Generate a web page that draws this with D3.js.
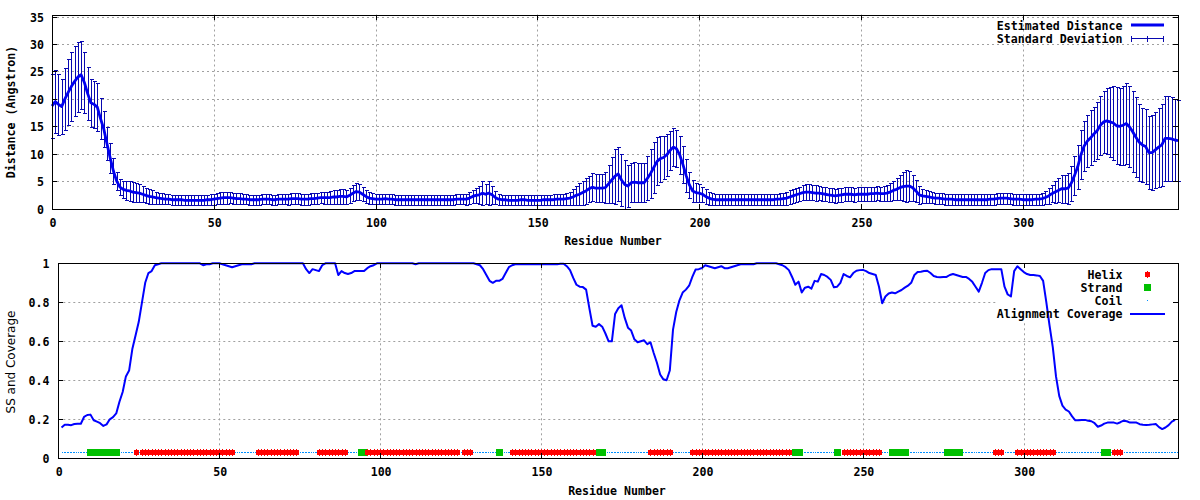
<!DOCTYPE html>
<html><head><meta charset="utf-8">
<script src="https://cdn.jsdelivr.net/npm/d3@7"></script>
<style>
body{margin:0;background:#fff}
text{font-family:"DejaVu Sans Mono",monospace;font-weight:bold;font-size:11.6px;fill:#000}
</style>
</head><body><svg id="c" width="1200" height="500"></svg>
<script>
// ---------- data ----------
// Estimated distance (Angstrom), residues 0..348
const distMean = [
18.7,19.5,19.0,18.6,20.0,21.2,22.3,23.2,24.0,24.4,
23.0,21.0,19.3,19.0,18.5,16.4,14.5,11.8,9.2,6.8,
5.0,3.9,3.5,3.3,3.2,3.0,2.9,2.8,2.6,2.4,
2.2,2.1,2.0,1.9,1.8,1.7,1.7,1.6,1.6,1.6,
1.6,1.5,1.5,1.5,1.5,1.5,1.5,1.5,1.6,1.6,
1.7,1.8,1.9,2.0,2.0,2.0,1.9,1.8,1.8,1.7,
1.7,1.6,1.6,1.6,1.6,1.7,1.7,1.7,1.6,1.6,
1.7,1.7,1.7,1.7,1.8,1.8,1.8,1.7,1.7,1.7,
1.8,1.8,1.9,2.0,2.0,2.0,2.0,2.1,2.1,2.2,
2.2,2.1,2.4,2.8,3.1,3.0,2.6,2.2,1.9,1.8,
1.7,1.7,1.7,1.8,1.7,1.7,1.6,1.6,1.6,1.6,
1.6,1.6,1.6,1.6,1.6,1.6,1.6,1.6,1.6,1.6,
1.6,1.6,1.6,1.6,1.6,1.7,1.7,1.7,1.7,1.9,
2.2,2.4,2.5,2.8,2.6,2.8,2.5,2.0,1.7,1.6,
1.6,1.5,1.5,1.5,1.5,1.6,1.6,1.5,1.5,1.5,
1.5,1.5,1.6,1.6,1.6,1.6,1.7,1.7,1.7,1.8,
1.9,2.1,2.4,2.6,2.9,3.2,3.6,3.9,3.7,3.7,
3.7,3.8,4.5,5.2,5.9,6.3,5.2,4.4,4.1,4.7,
4.8,4.7,4.7,4.7,5.5,6.4,7.5,8.6,9.1,9.3,
9.8,10.6,11.2,10.9,9.8,8.0,6.0,4.3,3.2,2.9,
2.8,2.6,2.2,1.9,1.7,1.6,1.6,1.6,1.6,1.6,
1.6,1.6,1.6,1.6,1.6,1.6,1.6,1.6,1.6,1.6,
1.6,1.6,1.6,1.6,1.7,1.7,1.8,1.9,2.1,2.3,
2.5,2.7,2.9,3.0,3.0,2.9,2.8,2.8,2.7,2.6,
2.5,2.4,2.3,2.4,2.5,2.6,2.6,2.6,2.5,2.6,
2.6,2.6,2.6,2.7,2.7,2.8,2.7,2.7,2.8,3.0,
3.3,3.5,3.8,4.0,4.1,4.1,3.8,3.2,2.5,2.3,
2.2,2.1,2.0,1.9,1.9,1.8,1.7,1.7,1.7,1.6,
1.6,1.6,1.6,1.6,1.6,1.6,1.6,1.6,1.6,1.6,
1.7,1.7,1.8,1.9,1.9,1.9,1.8,1.7,1.7,1.7,
1.6,1.6,1.6,1.6,1.7,1.7,1.8,2.0,2.3,2.7,
3.0,3.3,3.6,3.6,3.7,4.6,6.0,7.6,9.8,11.4,
12.3,12.9,13.6,14.2,15.2,15.8,16.0,15.8,15.6,15.1,
15.0,15.2,15.5,14.9,14.0,13.0,12.1,11.6,11.3,10.2,
10.2,10.7,11.2,11.6,12.8,12.8,12.7,12.5,12.4
];
// Standard deviation, residues 0..348
const distSD = [
5.8,5.7,5.5,5.0,5.7,6.0,6.3,6.4,6.4,6.2,
5.5,4.8,4.4,4.3,4.4,3.8,3.3,3.0,2.8,2.4,
1.7,1.5,1.6,1.8,1.9,1.8,1.7,1.6,1.5,1.4,
1.3,1.2,1.1,1.0,1.0,0.9,0.9,0.9,0.9,0.9,
0.9,0.9,0.9,0.9,0.9,0.9,0.9,0.9,0.9,1.0,
1.0,1.0,1.1,1.1,1.1,1.0,1.0,1.0,1.0,0.9,
0.9,0.9,0.9,0.9,0.9,0.9,0.9,0.9,0.9,0.9,
0.9,0.9,0.9,1.0,1.0,1.0,1.0,1.0,1.0,1.0,
1.0,1.0,1.0,1.0,1.1,1.1,1.2,1.2,1.3,1.3,
1.3,1.2,1.4,1.5,1.5,1.4,1.3,1.2,1.1,1.0,
0.9,0.9,0.9,0.9,0.9,0.9,0.9,0.9,0.9,0.9,
0.9,0.9,0.9,0.9,0.9,0.9,0.9,0.9,0.9,0.9,
0.9,0.9,0.9,0.9,0.9,0.9,0.9,0.9,1.0,1.1,
1.2,1.4,1.6,2.2,1.8,2.2,1.6,1.2,1.0,0.9,
0.9,0.9,0.9,0.9,0.9,0.9,0.9,0.9,0.9,0.9,
0.9,0.9,0.9,0.9,0.9,1.0,1.0,1.0,1.0,1.1,
1.2,1.4,1.7,2.0,2.2,2.3,2.4,2.5,2.6,2.6,
2.6,2.8,3.5,4.2,5.0,5.0,4.8,4.4,3.8,3.6,
3.6,3.6,3.6,3.6,4.0,4.4,4.6,4.4,4.2,4.0,
3.8,3.6,3.4,3.4,3.5,3.4,3.0,2.4,2.0,1.8,
1.6,1.4,1.3,1.2,1.1,1.0,1.0,1.0,1.0,1.0,
1.0,1.0,1.0,1.0,1.0,1.0,1.0,1.0,1.0,1.0,
1.0,1.0,1.0,1.0,1.0,1.1,1.1,1.2,1.2,1.3,
1.3,1.3,1.4,1.4,1.4,1.4,1.4,1.3,1.3,1.3,
1.3,1.3,1.3,1.3,1.3,1.3,1.3,1.3,1.3,1.3,
1.3,1.3,1.3,1.3,1.3,1.3,1.3,1.4,1.5,1.6,
1.8,2.0,2.3,2.6,2.9,2.7,2.4,2.0,1.6,1.3,
1.2,1.1,1.0,1.0,1.0,1.0,1.0,1.0,1.0,1.0,
1.0,1.0,1.0,1.0,1.0,1.0,1.0,1.0,1.0,1.0,
1.0,1.0,1.0,1.0,1.0,1.0,1.0,1.0,1.0,1.0,
1.0,1.0,1.0,1.0,1.0,1.0,1.1,1.2,1.4,1.6,
2.0,2.2,2.6,2.6,2.8,3.2,3.6,4.0,4.5,4.6,
4.8,5.0,5.0,5.2,5.4,5.6,6.0,6.4,6.8,7.0,
7.0,7.2,7.4,7.4,7.4,7.3,7.0,6.8,6.8,6.6,
6.8,7.0,7.2,7.5,7.7,7.7,7.6,7.4,7.4
];
// Alignment coverage, residues 1..347
const coverage = [
0.158,0.172,0.172,0.17,0.176,0.177,0.177,0.212,0.222,0.224,
0.195,0.188,0.18,0.166,0.174,0.2,0.211,0.23,0.29,0.34,
0.42,0.45,0.56,0.63,0.7,0.8,0.9,0.95,0.96,0.99,
0.995,1,1,1,1,1,1,1,1,1,
1,1,1,1,0.99,0.995,0.995,1,1,1,
0.995,0.99,0.985,0.98,0.985,0.99,0.995,0.995,0.995,0.995,
1,1,1,1,1,1,1,1,1,1,
1,1,1,1,1,1,0.97,0.95,0.97,0.965,
0.96,0.99,1,1,1,1,0.94,0.96,0.95,0.945,
0.95,0.96,0.96,0.96,0.96,0.975,0.985,0.99,1,1,
1,1,1,1,1,1,1,1,1,1,
0.995,1,1,1,1,1,1,1,1,1,
1,1,1,1,1,1,1,1,1,0.995,
0.99,0.97,0.94,0.91,0.9,0.91,0.91,0.92,0.95,0.98,
0.99,0.995,0.995,0.995,0.995,0.995,0.995,0.995,0.995,0.995,
0.995,0.995,0.995,0.995,0.995,0.998,0.998,0.985,0.965,0.925,
0.89,0.88,0.878,0.865,0.77,0.68,0.675,0.688,0.675,0.64,
0.6,0.6,0.74,0.77,0.785,0.72,0.67,0.655,0.61,0.595,
0.6,0.605,0.585,0.595,0.54,0.49,0.43,0.405,0.4,0.45,
0.66,0.75,0.81,0.85,0.865,0.885,0.93,0.968,0.97,0.976,
0.99,0.985,0.98,0.975,0.98,0.985,0.975,0.975,0.98,0.985,
0.99,0.995,0.995,0.995,0.995,0.995,1,1,1,1,
1,1,1,0.995,0.99,0.98,0.965,0.93,0.89,0.906,
0.85,0.875,0.88,0.87,0.91,0.906,0.945,0.94,0.93,0.915,
0.877,0.88,0.9,0.945,0.935,0.928,0.95,0.962,0.965,0.966,
0.96,0.95,0.945,0.94,0.88,0.795,0.83,0.845,0.85,0.846,
0.855,0.863,0.875,0.885,0.9,0.94,0.955,0.957,0.96,0.962,
0.95,0.935,0.93,0.928,0.93,0.93,0.94,0.945,0.94,0.935,
0.93,0.93,0.92,0.905,0.88,0.855,0.9,0.95,0.965,0.97,
0.97,0.97,0.97,0.88,0.84,0.83,0.96,0.985,0.97,0.955,
0.945,0.94,0.94,0.938,0.935,0.91,0.8,0.68,0.57,0.42,
0.32,0.27,0.25,0.24,0.215,0.195,0.195,0.197,0.197,0.193,
0.19,0.18,0.162,0.168,0.178,0.183,0.183,0.183,0.178,0.185,
0.193,0.19,0.183,0.183,0.183,0.175,0.172,0.171,0.172,0.174,
0.176,0.16,0.15,0.158,0.17,0.188,0.197
];
// Secondary structure segments [first, last] residue
const helixSegments = [[24,24],[26,54],[62,74],[81,89],[96,124],[126,128],[141,166],[184,190],[197,227],[244,255],[291,293],[298,309],[328,330]];
const strandSegments = [[10,18],[94,95],[137,137],[168,169],[229,230],[242,242],[259,263],[276,280],[325,326]];
const seqLength = 347;
const xTicks = [0,50,100,150,200,250,300];
const distTicks = [0,5,10,15,20,25,30,35];
const ssTicks = [0,0.2,0.4,0.6,0.8,1];
const ssTickLabels = ["0","0.2","0.4","0.6","0.8","1"];
const ssLevel = 0.03;

// ---------- drawing ----------
const svg = d3.select("#c");
const C = {mean:"#0000f0", err:"#0808b0", cov:"#0000ff", helix:"#ff0000", strand:"#00c000", coil:"#0090ff", grid:"#a0a0a0"};

function gridLines(x, y, xt, yt) {
  const g = svg.append("g");
  const [x0,x1] = x.range(), [y0,y1] = y.range();
  g.selectAll(".gx").data(xt.filter(d=>d>x.domain()[0])).join("line")
    .attr("x1",d=>Math.round(x(d))+.5).attr("x2",d=>Math.round(x(d))+.5)
    .attr("y1",y1).attr("y2",y0).attr("stroke",C.grid).attr("stroke-dasharray","2,3");
  g.selectAll(".gy").data(yt.filter(d=>d>y.domain()[0])).join("line")
    .attr("y1",d=>Math.round(y(d))+.5).attr("y2",d=>Math.round(y(d))+.5)
    .attr("x1",x0).attr("x2",x1).attr("stroke",C.grid).attr("stroke-dasharray","2,3");
  return g;
}
function frame(x, y, xt, yt, yfmt, xLabY, yLabX) {
  const g = svg.append("g");
  const [x0,x1] = x.range(), [y0,y1] = y.range();
  const L = 5;
  g.append("rect").attr("x",Math.round(x0)+.5).attr("y",Math.round(y1)+.5)
    .attr("width",Math.round(x1)-Math.round(x0)).attr("height",Math.round(y0)-Math.round(y1))
    .attr("fill","none").attr("stroke","#000");
  xt.forEach(d=>{
    const px = Math.round(x(d))+.5;
    g.append("line").attr("x1",px).attr("x2",px).attr("y1",Math.round(y0)).attr("y2",Math.round(y0)-L).attr("stroke","#000");
    g.append("line").attr("x1",px).attr("x2",px).attr("y1",Math.round(y1)).attr("y2",Math.round(y1)+L).attr("stroke","#000");
    g.append("text").attr("x",x(d)+1).attr("y",xLabY).attr("text-anchor","middle").attr("dominant-baseline","central").text(d);
  });
  yt.forEach((d,i)=>{
    const py = Math.round(y(d))+.5;
    g.append("line").attr("y1",py).attr("y2",py).attr("x1",Math.round(x0)).attr("x2",Math.round(x0)+L).attr("stroke","#000");
    g.append("line").attr("y1",py).attr("y2",py).attr("x1",Math.round(x1)).attr("x2",Math.round(x1)-L).attr("stroke","#000");
    g.append("text").attr("x",yLabX).attr("y",y(d)+1).attr("text-anchor","end").attr("dominant-baseline","central").text(yfmt(d,i));
  });
}

// ===== Top panel =====
const xT = d3.scaleLinear().domain([0,348]).range([52,1178]);
const yT = d3.scaleLinear().domain([0,35.4]).range([208.5,14.5]);
gridLines(xT, yT, xTicks, distTicks);
const topG = svg.append("g");
const distData = distMean.map((m,i)=>({r:i, m, s:distSD[i]}));
const eb = topG.append("g").attr("stroke",C.err).attr("stroke-width",1).attr("fill","none").attr("shape-rendering","crispEdges");
distData.forEach(d=>{
  const px = Math.round(xT(d.r))+.5;
  const yh = Math.round(yT(d.m+d.s))+.5, yl = Math.round(yT(Math.max(0,d.m-d.s)))+.5;
  eb.append("line").attr("x1",px).attr("x2",px).attr("y1",yh).attr("y2",yl);
  eb.append("line").attr("x1",px-2).attr("x2",px+2).attr("y1",yh).attr("y2",yh);
  eb.append("line").attr("x1",px-2).attr("x2",px+2).attr("y1",yl).attr("y2",yl);
});
topG.append("path").datum(distData)
  .attr("d",d3.line().x(d=>xT(d.r)).y(d=>yT(d.m)))
  .attr("fill","none").attr("stroke",C.mean).attr("stroke-width",2.8).attr("stroke-linejoin","round");
frame(xT, yT, xTicks, distTicks, d=>d, 222.5, 44);
svg.append("text").attr("x",613).attr("y",241).attr("text-anchor","middle").attr("dominant-baseline","central").text("Residue Number");
svg.append("text").attr("transform","translate(11,112) rotate(-90)").attr("text-anchor","middle").attr("dominant-baseline","central").text("Distance (Angstron)");
// top legend
const lg1 = svg.append("g");
lg1.append("text").attr("x",1122.5).attr("y",26).attr("text-anchor","end").attr("dominant-baseline","central").text("Estimated Distance");
lg1.append("line").attr("x1",1131).attr("x2",1164).attr("y1",25).attr("y2",25).attr("stroke",C.mean).attr("stroke-width",2.8);
lg1.append("text").attr("x",1122.5).attr("y",39).attr("text-anchor","end").attr("dominant-baseline","central").text("Standard Deviation");
lg1.append("line").attr("x1",1131).attr("x2",1164).attr("y1",38.5).attr("y2",38.5).attr("stroke",C.err);
[1131.5,1147.5,1163.5].forEach(px=>lg1.append("line").attr("x1",px).attr("x2",px).attr("y1",36).attr("y2",42).attr("stroke",C.err));

// ===== Bottom panel =====
const xB = d3.scaleLinear().domain([0,348]).range([58.3,1178.3]);
const yB = d3.scaleLinear().domain([0,1]).range([458.3,263.3]);
gridLines(xB, yB, xTicks, ssTicks);
// legend background
svg.append("rect").attr("x",998).attr("y",266).attr("width",178).attr("height",55).attr("fill","#fff");
const botG = svg.append("g");
const ssType = d3.range(1,seqLength+1).map(r=>{
  if (helixSegments.some(([a,b])=>r>=a&&r<=b)) return "H";
  if (strandSegments.some(([a,b])=>r>=a&&r<=b)) return "E";
  return "C";
});
const ssData = ssType.map((t,i)=>({r:i+1,t}));
const yS = Math.round(yB(ssLevel));
function helixMark(g, px, py){
  g.append("rect").attr("x",px-2.5).attr("y",py-2.5).attr("width",5).attr("height",5).attr("fill",C.helix);
  g.append("rect").attr("x",px-0.5).attr("y",py-3.5).attr("width",1).attr("height",7).attr("fill",C.helix);
}
function strandMark(g, px, py){
  g.append("rect").attr("x",px-3.5).attr("y",py-3.5).attr("width",7).attr("height",7).attr("fill",C.strand);
}
function coilMark(g, px, py){
  g.append("rect").attr("x",px-0.5).attr("y",py-0.5).attr("width",1).attr("height",1).attr("fill",C.coil);
}
ssData.filter(d=>d.t==="C").forEach(d=>{
  const px = Math.round(xB(d.r));
  coilMark(botG, px+0.5, yS+0.5);
  coilMark(botG, px+2.5, yS+0.5);
});
ssData.filter(d=>d.t==="E").forEach(d=>strandMark(botG, Math.round(xB(d.r))+0.5, yS+0.5));
ssData.filter(d=>d.t==="H").forEach(d=>helixMark(botG, Math.round(xB(d.r))+0.5, yS+0.5));
const covData = coverage.map((v,i)=>({r:i+1,v}));
botG.append("path").datum(covData)
  .attr("d",d3.line().x(d=>xB(d.r)).y(d=>yB(d.v)))
  .attr("fill","none").attr("stroke",C.cov).attr("stroke-width",2).attr("stroke-linejoin","round");
frame(xB, yB, xTicks, ssTicks, (d,i)=>ssTickLabels[i], 472, 49.5);
svg.append("text").attr("x",617).attr("y",491).attr("text-anchor","middle").attr("dominant-baseline","central").text("Residue Number");
svg.append("text").attr("transform","translate(11,362) rotate(-90)").attr("text-anchor","middle").attr("dominant-baseline","central")
  .style("font-family","'DejaVu Sans',sans-serif").style("font-weight","normal").style("font-size","12px").text("SS and Coverage");
// bottom legend
const lg2 = svg.append("g");
const legRows = [["Helix",275],["Strand",288],["Coil",301],["Alignment Coverage",314]];
legRows.forEach(([t,y])=>lg2.append("text").attr("x",1122.5).attr("y",y).attr("text-anchor","end").attr("dominant-baseline","central").text(t));
helixMark(lg2, 1147.5, 274.5);
strandMark(lg2, 1147.5, 287.5);
coilMark(lg2, 1147.5, 300.5);
lg2.append("line").attr("x1",1130).attr("x2",1165).attr("y1",314).attr("y2",314).attr("stroke",C.cov).attr("stroke-width",2);
</script>
</body></html>
